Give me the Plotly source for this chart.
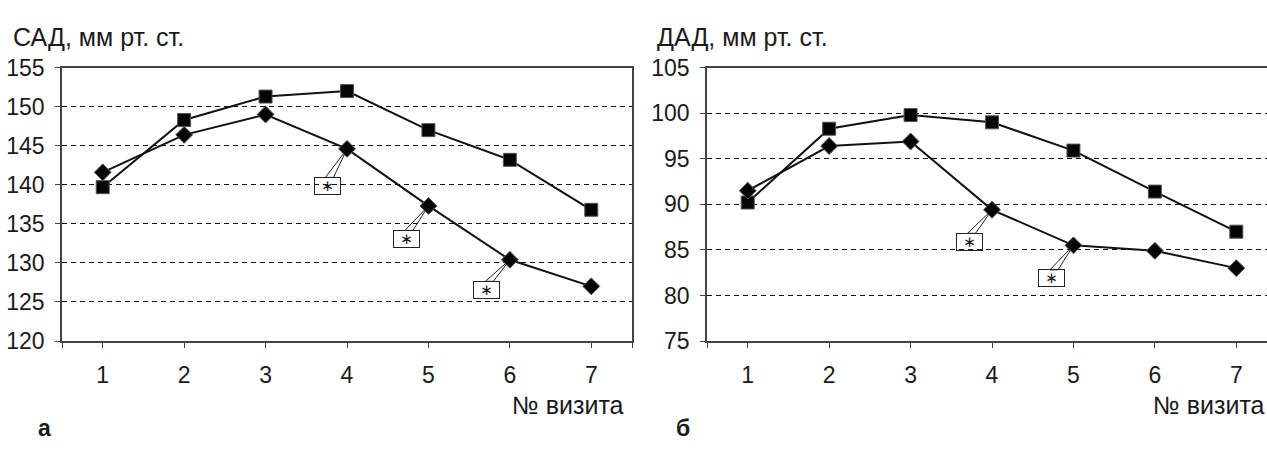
import plotly.graph_objects as go

# ---- data ----
visits = [1, 2, 3, 4, 5, 6, 7]
x_tick_labels = ["1", "2", "3", "4", "5", "6", "7"]

sad_square = [139.7, 148.3, 151.3, 152.0, 147.0, 143.2, 136.8]
sad_diamond = [141.6, 146.4, 149.0, 144.6, 137.3, 130.4, 127.0]
dad_square = [90.2, 98.3, 99.8, 99.0, 95.9, 91.4, 87.0]
dad_diamond = [91.5, 96.4, 96.9, 89.4, 85.5, 84.9, 83.0]

sad_ticks = [120, 125, 130, 135, 140, 145, 150, 155]
dad_ticks = [75, 80, 85, 90, 95, 100, 105]

# visits (diamond series) marked with "*"
sad_star_visits = [4, 5, 6]
dad_star_visits = [4, 5]

left_title = "САД, мм рт. ст."
right_title = "ДАД, мм рт. ст."
x_title = "№ визита"
panel_labels = ["а", "б"]

# ---- layout geometry ----
W, H = 1267, 453
FONT = "Liberation Sans, Arial, sans-serif"
TXT = "#1a1a1a"
AX = "#444444"

def px_x(p):
    return p / W

def px_y(p):
    return 1 - p / H

fig = go.Figure()

def add_series(xa, ya, y_sq, y_di):
    fig.add_trace(go.Scatter(
        x=visits, y=y_sq, xaxis=xa, yaxis=ya, mode="lines+markers",
        line=dict(color="#111111", width=2),
        marker=dict(symbol="square", size=13, color="#050505",
                    line=dict(color="#555555", width=1)),
        showlegend=False, hoverinfo="skip"))
    fig.add_trace(go.Scatter(
        x=visits, y=y_di, xaxis=xa, yaxis=ya, mode="lines+markers",
        line=dict(color="#111111", width=2),
        marker=dict(symbol="diamond", size=13, color="#050505",
                    line=dict(color="#555555", width=1)),
        showlegend=False, hoverinfo="skip"))

add_series("x", "y", sad_square, sad_diamond)
add_series("x2", "y2", dad_square, dad_diamond)

ydom = [px_y(348), px_y(58)]

common_x = dict(
    showline=True, linecolor=AX, linewidth=1.5, mirror=True,
    ticks="outside", ticklen=5, tickcolor=AX, tickwidth=1.2,
    showgrid=False, zeroline=False,
    tickfont=dict(family=FONT, size=23, color=TXT),
    ticklabelstandoff=8,
)
common_y = dict(
    showline=True, linecolor=AX, linewidth=1.5,
    ticks="outside", ticklen=5, tickcolor=AX, tickwidth=1.2,
    showgrid=True, gridcolor="#111111", gridwidth=1, griddash="5px,4px",
    zeroline=False,
    tickfont=dict(family=FONT, size=23, color=TXT),
    ticklabelstandoff=6,
)

fig.update_layout(
    width=W, height=H,
    margin=dict(l=0, r=0, t=0, b=0),
    paper_bgcolor="white", plot_bgcolor="white",
    xaxis=dict(domain=[px_x(62), px_x(632)], range=[0.5, 7.5], anchor="y",
               tickvals=[0.5] + visits + [7.5], ticktext=[""] + x_tick_labels + [""],
               **common_x),
    yaxis=dict(domain=ydom, range=[120, 155], anchor="x", tickvals=sad_ticks,
               mirror=True, **common_y),
    xaxis2=dict(domain=[px_x(707), 1.0], range=[0.5, 0.5 + (W - 707) / 81.43], anchor="y2",
                tickvals=[0.5] + visits, ticktext=[""] + x_tick_labels,
                **common_x),
    yaxis2=dict(domain=ydom, range=[75, 105], anchor="x2", tickvals=dad_ticks,
                mirror=False, **common_y),
)

# ---- callouts with "*" ----
def add_star(xref, yref, xv, yv, ax, ay):
    bx0, bx1 = ax - 1.5, ax + 6.5
    by = ay - 8.5
    fig.add_shape(type="path", xref=xref, yref=yref,
                  xsizemode="pixel", ysizemode="pixel",
                  xanchor=xv, yanchor=yv,
                  path=f"M0,0 L{bx0},{-by} L{bx1},{-by} Z",
                  line=dict(color="#222222", width=1), fillcolor="rgba(0,0,0,0)",
                  layer="between")
    fig.add_annotation(x=xv, y=yv, xref=xref, yref=yref, text="∗",
                       showarrow=True, arrowcolor="rgba(0,0,0,0)", arrowhead=0,
                       ax=ax, ay=ay, axref="pixel", ayref="pixel",
                       width=23, height=14, borderpad=1, borderwidth=1,
                       bordercolor="#222222", bgcolor="rgba(255,255,255,0)",
                       font=dict(family="DejaVu Sans, sans-serif", size=15, color=TXT),
                       valign="middle")

sad_offsets = [(-20, 37), (-22, 33), (-23, 30)]
for v, (ax, ay) in zip(sad_star_visits, sad_offsets):
    add_star("x", "y", v, sad_diamond[visits.index(v)], ax, ay)
dad_offsets = [(-23, 32), (-22, 33)]
for v, (ax, ay) in zip(dad_star_visits, dad_offsets):
    add_star("x2", "y2", v, dad_diamond[visits.index(v)], ax, ay)

# ---- texts ----
def text(x, y, t, xanchor="left", size=25, bold=False):
    fig.add_annotation(x=x, y=y, xref="paper", yref="paper", text=(f"<b>{t}</b>" if bold else t),
                       showarrow=False, xanchor=xanchor, yanchor="middle",
                       font=dict(family=FONT, size=size, color=TXT))

text(px_x(11), px_y(25), left_title)
text(px_x(655), px_y(25), right_title)
text(px_x(626), px_y(416), x_title, xanchor="right")
text(px_x(1267), px_y(416), x_title, xanchor="right")
text(px_x(36), px_y(440), panel_labels[0], size=23, bold=True)
text(px_x(674), px_y(440), panel_labels[1], size=23, bold=True)

fig.write_html(
    "out.html",
    config={"displayModeBar": False},
    post_script="document.body.style.margin='0';document.body.style.overflow='hidden';",
)
